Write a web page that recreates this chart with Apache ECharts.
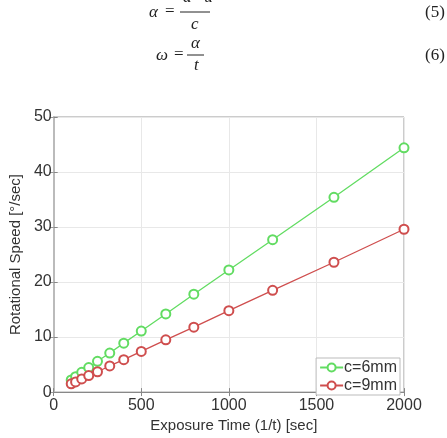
<!DOCTYPE html>
<html>
<head>
<meta charset="utf-8">
<script src="https://cdn.jsdelivr.net/npm/echarts@6/dist/echarts.min.js"></script>
<style>html,body{margin:0;padding:0;background:#fff;}#c{width:447px;height:438px;}</style>
</head>
<body>
<div id="c"></div>
<script>
const exposure = [100, 125, 160, 200, 250, 320, 400, 500, 640, 800, 1000, 1250, 1600, 2000];
const speed6mm = [2.2, 2.8, 3.6, 4.45, 5.6, 7.1, 8.9, 11.1, 14.2, 17.8, 22.2, 27.7, 35.4, 44.4];
const speed9mm = [1.5, 1.85, 2.4, 3.0, 3.7, 4.75, 5.9, 7.4, 9.5, 11.8, 14.8, 18.5, 23.6, 29.6];
const seriesNames = ['c=6mm', 'c=9mm'];
const xTicks = [0, 500, 1000, 1500, 2000];
const yTicks = [0, 10, 20, 30, 40, 50];

const green = '#62dc62';
const red = '#cf4e4e';
const lab = {fontFamily: 'Liberation Sans', fontSize: 16, color: '#333', formatter: v => String(v)};
const eqFont = 'italic 17px "Liberation Serif"';
const numFont = '17px "Liberation Serif"';

const chart = echarts.init(document.getElementById('c'), null, {renderer: 'canvas'});
chart.setOption({
  animation: false,
  backgroundColor: '#fff',
  grid: {left: 44, right: 43, top: 117, bottom: 36, show: true, borderColor: '#999', borderWidth: 1},
  xAxis: [{
    type: 'value', min: xTicks[0], max: xTicks[xTicks.length - 1], interval: 500,
    name: 'Exposure Time (1/t) [sec]', nameLocation: 'middle', nameGap: 22,
    nameTextStyle: {fontFamily: 'Liberation Sans', fontSize: 15, color: '#333', padding: [0, 0, 0, 10]},
    axisLine: {lineStyle: {color: '#888'}},
    axisTick: {inside: true, length: 4, lineStyle: {color: '#888'}},
    axisLabel: Object.assign({margin: 5}, lab),
    splitLine: {lineStyle: {color: '#e8e8e8'}}
  }, {
    type: 'value', position: 'top', min: 0, max: 2000, interval: 500,
    axisLine: {lineStyle: {color: '#888'}},
    axisTick: {inside: true, length: 4, lineStyle: {color: '#888'}},
    axisLabel: {show: false}, splitLine: {show: false}
  }],
  yAxis: [{
    type: 'value', min: yTicks[0], max: yTicks[yTicks.length - 1], interval: 10,
    name: 'Rotational Speed [°/sec]', nameLocation: 'middle', nameGap: 25, nameRotate: 90,
    nameTextStyle: {fontFamily: 'Liberation Sans', fontSize: 15, color: '#333'},
    axisLine: {lineStyle: {color: '#888'}},
    axisTick: {inside: true, length: 4, lineStyle: {color: '#888'}},
    axisLabel: Object.assign({margin: 2}, lab),
    splitLine: {lineStyle: {color: '#e8e8e8'}}
  }, {
    type: 'value', position: 'right', min: 0, max: 50, interval: 10,
    axisLine: {lineStyle: {color: '#bbb', width: 2}},
    axisTick: {inside: true, length: 4, lineStyle: {color: '#999'}},
    axisLabel: {show: false}, splitLine: {show: false}
  }],
  legend: {
    orient: 'vertical', right: 47, top: 358, z: 1,
    backgroundColor: '#fff', borderColor: '#bbb', borderWidth: 1,
    padding: [1, 3, 1, 3], itemGap: 1, itemWidth: 23, itemHeight: 10,
    textStyle: {fontFamily: 'Liberation Sans', fontSize: 16, lineHeight: 17, color: '#333', padding: [0, 0, 0, -4]},
    data: seriesNames
  },
  series: [{
    name: seriesNames[0], type: 'line', symbol: 'emptyCircle', symbolSize: 9,
    data: exposure.map((x, i) => [x, speed6mm[i]]),
    itemStyle: {color: green, borderWidth: 1.2}, lineStyle: {color: green, width: 1.3}
  }, {
    name: seriesNames[1], type: 'line', symbol: 'emptyCircle', symbolSize: 9,
    data: exposure.map((x, i) => [x, speed9mm[i]]),
    itemStyle: {color: red, borderWidth: 1.2}, lineStyle: {color: red, width: 1.3}
  }],
  graphic: [
    {type: 'text', left: 149, top: 4, style: {text: 'α', font: eqFont, fill: '#222'}},
    {type: 'text', left: 165, top: 3, style: {text: '=', font: numFont, fill: '#222'}},
    {type: 'text', left: 183, top: -11, style: {text: 'a · u', font: eqFont, fill: '#222'}},
    {type: 'line', shape: {x1: 180, y1: 12, x2: 210, y2: 12}, style: {stroke: '#222', lineWidth: 1}},
    {type: 'text', left: 191, top: 16, style: {text: 'c', font: eqFont, fill: '#222'}},
    {type: 'text', left: 425, top: 4, style: {text: '(5)', font: numFont, fill: '#222'}},

    {type: 'text', left: 156, top: 47, style: {text: 'ω', font: eqFont, fill: '#222'}},
    {type: 'text', left: 174, top: 46, style: {text: '=', font: numFont, fill: '#222'}},
    {type: 'text', left: 191, top: 35, style: {text: 'α', font: eqFont, fill: '#222'}},
    {type: 'line', shape: {x1: 187, y1: 55, x2: 204, y2: 55}, style: {stroke: '#222', lineWidth: 1}},
    {type: 'text', left: 194, top: 57, style: {text: 't', font: eqFont, fill: '#222'}},
    {type: 'text', left: 425, top: 47, style: {text: '(6)', font: numFont, fill: '#222'}}
  ]
});
</script>
</body>
</html>
